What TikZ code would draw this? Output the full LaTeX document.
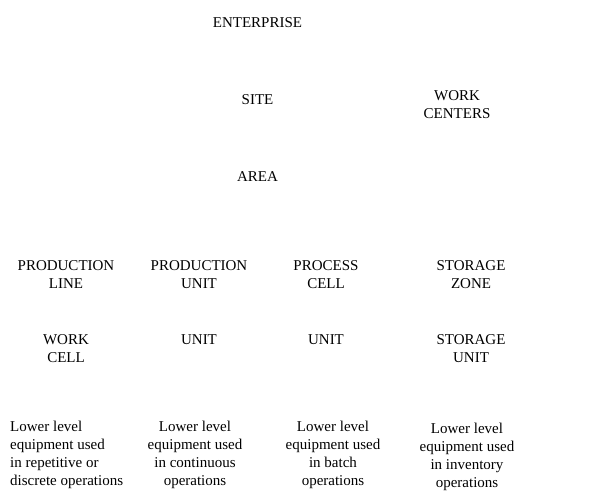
\documentclass[tikz,border=0pt]{standalone}
\usepackage{fontspec}
\setmainfont{Liberation Serif}
\usetikzlibrary{positioning}

\begin{document}
\begin{tikzpicture}[x=1pt,y=-1pt]
\tikzstyle{every node}=[inner sep=0pt,align=center,font=\fontsize{15}{18}\selectfont];
\useasboundingbox (0,0) rectangle (591,500);

  \node (ent) at (257.5,22.5) {ENTERPRISE};
  \node (site) at (257.5,100) {SITE};
  \node (wc) at (457,105) {WORK\\CENTERS};
  \node (area) at (257.5,177) {AREA};

  \node (pl) at (66,275) {PRODUCTION\\LINE};
  \node (pu) at (199,275) {PRODUCTION\\UNIT};
  \node (pc) at (326,275) {PROCESS\\CELL};
  \node (sz) at (471,275) {STORAGE\\ZONE};

  \node (wcell) at (66,349) {WORK\\CELL};
  \node (ua) at (199,340) {UNIT};
  \node (ub) at (326,340) {UNIT};
  \node (su) at (471,349) {STORAGE\\UNIT};

  \node[anchor=west,align=left] (lla) at (10,455) {Lower level\\equipment used\\in repetitive or\\discrete operations};
  \node (llb) at (195,455) {Lower level\\equipment used\\in continuous\\operations};
  \node (llc) at (333,455) {Lower level\\equipment used\\in batch\\operations};
  \node (lld) at (467,457) {Lower level\\equipment used\\in inventory\\operations};

\end{tikzpicture}
\end{document}
